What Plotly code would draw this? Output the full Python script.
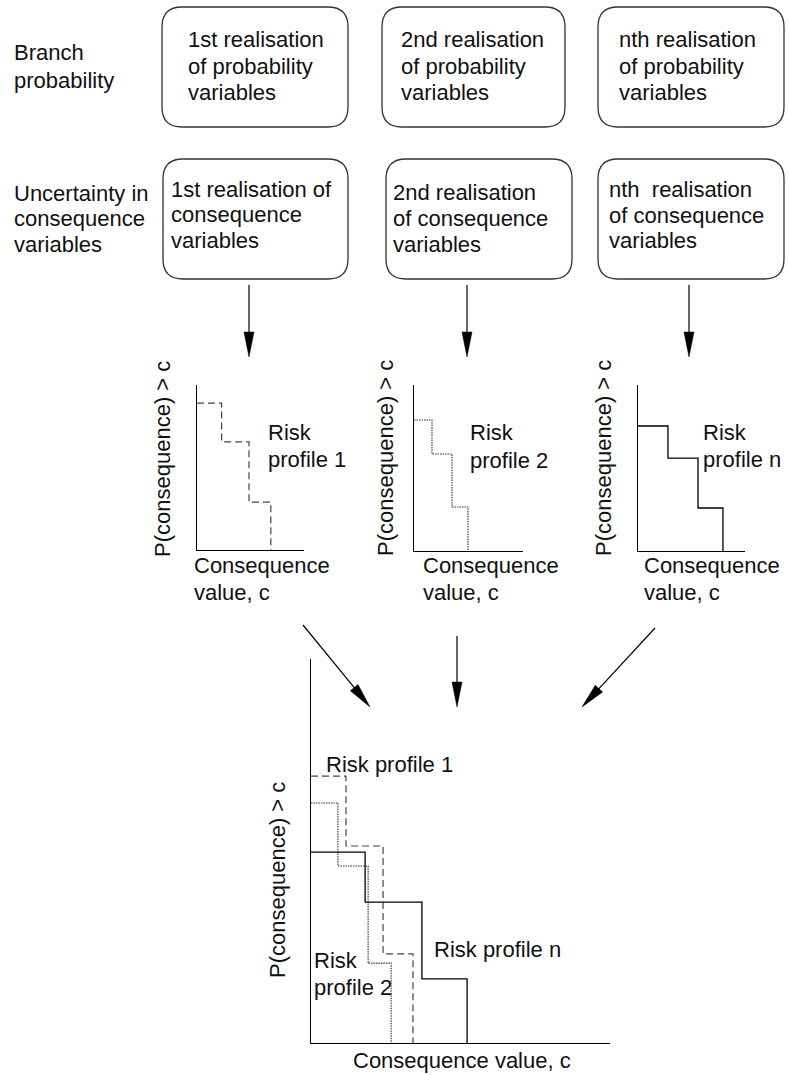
import plotly.graph_objects as go

W, H = 789, 1075
FONT = "Liberation Sans, Arial, sans-serif"
FS = 22

# ---------------- data ----------------
# step risk profiles: exceedance probability levels and consequence break points
# (fractions of each plot's axis range)
p1_breaks = [0.23, 0.486, 0.69]
p1_levels = [0.89, 0.655, 0.29]
p2_breaks = [0.165, 0.349, 0.495]
p2_levels = [0.789, 0.584, 0.265]
pn_breaks = [0.28, 0.561, 0.794]
pn_levels = [0.753, 0.56, 0.259]

big1_breaks = [0.117, 0.241, 0.341]
big1_levels = [0.695, 0.513, 0.232]
big2_breaks = [0.09, 0.191, 0.268]
big2_levels = [0.625, 0.461, 0.208]
bign_breaks = [0.181, 0.371, 0.522]
bign_levels = [0.497, 0.367, 0.167]

row_labels = [["Branch", "probability"],
              ["Uncertainty in", "consequence", "variables"]]
prob_boxes = [["1st realisation", "of probability", "variables"],
              ["2nd realisation", "of probability", "variables"],
              ["nth realisation", "of probability", "variables"]]
cons_boxes = [["1st realisation of", "consequence", "variables"],
              ["2nd realisation", "of consequence", "variables"],
              ["nth\u00a0 realisation", "of consequence", "variables"]]
small_names = [["Risk", "profile 1"], ["Risk", "profile 2"], ["Risk", "profile n"]]
y_title = "P(consequence) > c"
x_title_lines = ["Consequence", "value, c"]
x_title_big = "Consequence value, c"

# ---------------- helpers ----------------
def px(x):
    return x / W

def py(y):
    return 1 - y / H

fig = go.Figure()
annotations = []
shapes = []

def text(x, baseline, s, size=FS, anchor="left"):
    annotations.append(dict(
        x=px(x), y=py(baseline - 0.3465 * size), xref="paper", yref="paper",
        text=s, showarrow=False, xanchor=anchor, yanchor="middle",
        font=dict(family=FONT, size=size, color="#111"), borderpad=0))

def block(x, baselines, lines):
    for b, s in zip(baselines, lines):
        text(x, b, s)

def vtext(xc, yc, s):
    annotations.append(dict(
        x=px(xc), y=py(yc), xref="paper", yref="paper", text=s,
        showarrow=False, textangle=-90, xanchor="center", yanchor="middle",
        font=dict(family=FONT, size=FS, color="#111"), borderpad=0))

def rbox(x0, y0, x1, y1, r=20):
    pts = (f"M {px(x0+r)},{py(y0)} L {px(x1-r)},{py(y0)} "
           f"Q {px(x1)},{py(y0)} {px(x1)},{py(y0+r)} "
           f"L {px(x1)},{py(y1-r)} Q {px(x1)},{py(y1)} {px(x1-r)},{py(y1)} "
           f"L {px(x0+r)},{py(y1)} Q {px(x0)},{py(y1)} {px(x0)},{py(y1-r)} "
           f"L {px(x0)},{py(y0+r)} Q {px(x0)},{py(y0)} {px(x0+r)},{py(y0)} Z")
    shapes.append(dict(type="path", path=pts, xref="paper", yref="paper",
                       line=dict(color="#333", width=1.3)))

def arrow(x0, y0, x1, y1, L=25, hw=5):
    dx, dy = x1 - x0, y1 - y0
    n = (dx * dx + dy * dy) ** 0.5
    ux, uy = dx / n, dy / n
    bx, by = x1 - L * ux, y1 - L * uy
    nx, ny = -uy, ux
    shapes.append(dict(type="line", xref="paper", yref="paper",
                       x0=px(x0), y0=py(y0), x1=px(bx + ux * 3), y1=py(by + uy * 3),
                       line=dict(color="black", width=1.2)))
    path = (f"M {px(x1)},{py(y1)} L {px(bx + hw*nx)},{py(by + hw*ny)} "
            f"L {px(bx - hw*nx)},{py(by - hw*ny)} Z")
    shapes.append(dict(type="path", path=path, xref="paper", yref="paper",
                       fillcolor="black", line=dict(color="black", width=0.5)))

# ---------------- boxes & labels ----------------
block(13, [60, 88], row_labels[0])
block(13, [201, 226, 252], row_labels[1])

top_boxes = [(162, 348), (382, 565), (598, 784)]
for (x0, x1) in top_boxes:
    rbox(x0, 7, x1, 127)
block(187, [47, 74, 100], prob_boxes[0])
block(400, [47, 74, 100], prob_boxes[1])
block(618, [47, 74, 100], prob_boxes[2])

mid_boxes = [(163, 348), (386, 572), (598, 784)]
for (x0, x1) in mid_boxes:
    rbox(x0, 159, x1, 279)
block(170, [197, 222, 248], cons_boxes[0])
block(392, [200, 226, 252], cons_boxes[1])
block(608, [197, 223, 248], cons_boxes[2])

# arrows from boxes to small plots
for xa in (249, 467, 689):
    arrow(xa, 285, xa, 357)
# arrows from small plots to combined plot
arrow(303, 625, 370, 707)
arrow(457, 636, 457, 707)
arrow(655, 628, 582, 707)

# ---------------- step plots ----------------
styles = {
    "dash": dict(color="#444", width=1.2, dash="7px,4px"),
    "dot": dict(color="#333", width=1.1, dash="1.5px,1px"),
    "solid": dict(color="black", width=1.3),
}

panels = [
    # (x0px, x1px, ytop, ybottom)
    (197, 304, 385, 550),
    (414, 523, 385, 551),
    (638, 745, 385, 551),
    (311, 610, 659, 1043),
]

layout_axes = {}
for i, (x0, x1, yt, yb) in enumerate(panels, start=1):
    xs = "" if i == 1 else str(i)
    common = dict(range=[0, 1], showline=True, linecolor="black", linewidth=1,
                  showticklabels=False, ticks="", showgrid=False, zeroline=False,
                  fixedrange=True)
    layout_axes[f"xaxis{xs}"] = dict(domain=[px(x0), px(x1)], anchor=f"y{xs}", **common)
    layout_axes[f"yaxis{xs}"] = dict(domain=[py(yb), py(yt)], anchor=f"x{xs}", **common)

def step(breaks, levels, axis, style):
    fig.add_trace(go.Scatter(
        x=[0] + breaks, y=levels + [0], mode="lines", line_shape="hv",
        line=styles[style], xaxis=f"x{axis}", yaxis=f"y{axis}",
        hoverinfo="skip", showlegend=False))

step(p1_breaks, p1_levels, "", "dash")
step(p2_breaks, p2_levels, "2", "dot")
step(pn_breaks, pn_levels, "3", "solid")
step(big1_breaks, big1_levels, "4", "dash")
step(big2_breaks, big2_levels, "4", "dot")
step(bign_breaks, bign_levels, "4", "solid")

# small plot labels
block(267, [440, 467], small_names[0])
block(469, [440, 468], small_names[1])
block(702, [440, 467], small_names[2])
block(193, [573, 600], x_title_lines)
block(422, [573, 600], x_title_lines)
block(643, [573, 600], x_title_lines)
vtext(162, 459, y_title)
vtext(385, 458, y_title)
vtext(603, 458, y_title)

# big plot labels
text(325, 772, "Risk profile 1")
text(433, 957, "Risk profile n")
block(313, [968, 995], small_names[1])
text(352, 1068, x_title_big)
vtext(277, 880, y_title)

fig.update_layout(
    width=W, height=H, margin=dict(l=0, r=0, t=0, b=0),
    paper_bgcolor="white", plot_bgcolor="rgba(0,0,0,0)",
    showlegend=False, annotations=annotations, shapes=shapes,
    **layout_axes)

fig.write_html(
    "out.html", config={"displayModeBar": False},
    post_script="document.body.style.margin='0';document.body.style.padding='0';"
                "document.body.style.overflow='hidden';")
